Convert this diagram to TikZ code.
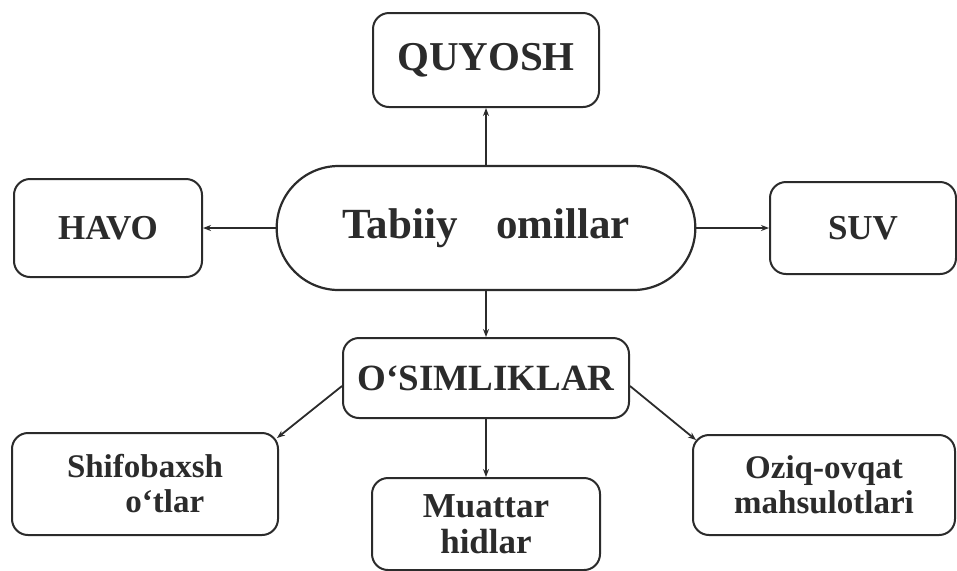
\documentclass[tikz,border=0pt]{standalone}
\usepackage{fontspec}
\setmainfont{Liberation Serif}
\usetikzlibrary{arrows.meta,shapes.misc}
\definecolor{ink}{HTML}{2B2B2B}
\tikzset{
  box/.style={draw=ink, line width=1pt, rounded corners=8pt, align=center,
              text=ink, font=\bfseries\fontsize{16.5}{17.5}\selectfont},
  link/.style={draw=ink, line width=0.9pt, -{Stealth[length=4pt,width=3pt]}},
}
\begin{document}
\begin{tikzpicture}[x=0.5pt,y=-0.5pt]
\useasboundingbox (0,0) rectangle (957,570);
\fill[white] (0,0) rectangle (957,570);

\node[draw=ink, line width=1.1pt, rounded rectangle, minimum width=216pt, minimum height=62pt,
      text=ink, font=\bfseries\fontsize{21.5}{24}\selectfont] (tab) at (486,228) {Tabiiy\hspace{0.9em}omillar};

\node[box, minimum width=113pt, minimum height=47pt, font=\bfseries\fontsize{20.5}{24}\selectfont] (quy) at (486,60) {QUYOSH};
\node[box, minimum width=94pt, minimum height=49pt, font=\bfseries\fontsize{17.5}{20}\selectfont] (havo) at (108,228) {HAVO};
\node[box, minimum width=93pt, minimum height=46pt, font=\bfseries\fontsize{17.5}{20}\selectfont] (suv) at (863,228) {SUV};
\node[box, minimum width=143pt, minimum height=40pt, font=\bfseries\fontsize{18.5}{21}\selectfont] (os) at (486,378) {O‘SIMLIKLAR};
\node[box, minimum width=133pt, minimum height=51pt] (shif) at (145,484) {Shifobaxsh\\\hspace{1.2em}o‘tlar};
\node[box, minimum width=114pt, minimum height=46pt, font=\bfseries\fontsize{17.5}{18}\selectfont] (mua) at (486,524) {Muattar\\hidlar};
\node[box, minimum width=131pt, minimum height=50pt] (oz) at (824,485) {Oziq-ovqat\\mahsulotlari};

\draw[link] (tab.north) -- (quy.south);
\draw[link] (tab.west) -- (havo.east);
\draw[link] (tab.east) -- (suv.west);
\draw[link] (tab.south) -- (os.north);
\draw[link] (os.south) -- (mua.north);
\draw[link] ([yshift=-4pt]os.west) -- ([xshift=-1pt,yshift=-3pt]shif.north east);
\draw[link] ([yshift=-4pt]os.east) -- ([xshift=2pt,yshift=-3pt]oz.north west);
\end{tikzpicture}
\end{document}
